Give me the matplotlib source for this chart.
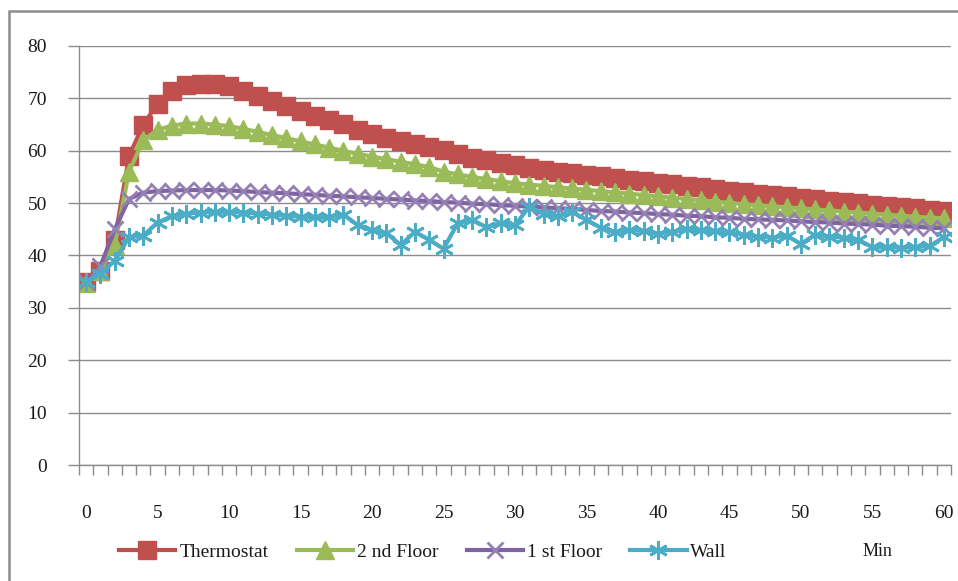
import matplotlib
matplotlib.use("Agg")
import matplotlib.pyplot as plt
from matplotlib.patches import Rectangle
import numpy as np

plt.rcParams['font.family'] = ['Liberation Serif', 'DejaVu Serif']

# Time in minutes (category axis)
minutes = list(range(0, 61))

thermostat = [35.0, 37.0, 43.0, 59.0, 65.0, 69.0, 71.5, 72.5, 72.8, 72.8,
              72.3, 71.5, 70.5, 69.5, 68.5, 67.5, 66.7, 65.9, 65.1, 63.9,
              63.2, 62.5, 61.9, 61.3, 60.7, 60.2, 59.3, 58.7, 58.2, 57.7,
              57.2, 56.8, 56.4, 56.0, 55.7, 55.4, 55.1, 54.8, 54.5, 54.2,
              53.9, 53.6, 53.3, 53.0, 52.7, 52.4, 52.1, 51.8, 51.6, 51.3,
              51.0, 50.8, 50.5, 50.2, 50.0, 49.7, 49.5, 49.2, 49.0, 48.7,
              48.5]

floor2 = [34.8, 37.0, 42.0, 56.0, 62.0, 64.0, 64.8, 65.2, 65.2, 65.0,
          64.7, 64.2, 63.6, 63.0, 62.4, 61.8, 61.2, 60.6, 60.0, 59.4,
          58.9, 58.4, 57.9, 57.4, 56.9, 56.0, 55.5, 55.0, 54.6, 54.2,
          53.8, 53.55, 53.3, 53.05, 52.8, 52.55, 52.3, 52.05, 51.8, 51.55,
          51.3, 51.05, 50.8, 50.55, 50.3, 50.05, 49.8, 49.6, 49.4, 49.2,
          49.0, 48.8, 48.6, 48.4, 48.2, 48.0, 47.8, 47.6, 47.4, 47.25,
          47.1]

floor1 = [35.0, 38.0, 45.0, 50.8, 52.0, 52.3, 52.4, 52.5, 52.5, 52.5,
          52.4, 52.3, 52.1, 52.0, 51.9, 51.7, 51.6, 51.4, 51.3, 51.1,
          51.0, 50.8, 50.7, 50.5, 50.4, 50.2, 50.1, 49.9, 49.8, 49.6,
          49.5, 49.3, 49.2, 49.0, 48.9, 48.7, 48.5, 48.4, 48.2, 48.1,
          47.9, 47.8, 47.6, 47.5, 47.3, 47.2, 47.0, 46.9, 46.8, 46.7,
          46.5, 46.4, 46.3, 46.1, 46.0, 45.9, 45.7, 45.6, 45.5, 45.3,
          45.2]

wall = [35.0, 36.5, 39.0, 43.5, 43.8, 46.3, 47.5, 48.0, 48.2, 48.3,
        48.3, 48.2, 48.0, 47.8, 47.6, 47.4, 47.3, 47.4, 47.8, 45.8,
        44.8, 44.3, 42.0, 44.5, 43.0, 41.3, 46.2, 46.8, 45.4, 46.2,
        45.8, 49.3, 48.0, 47.5, 48.3, 46.8, 45.3, 44.5, 44.8, 44.7,
        44.2, 44.5, 45.0, 44.8, 44.6, 44.4, 44.0, 43.6, 43.4, 43.8,
        42.2, 44.0, 43.6, 43.4, 43.0, 41.6, 41.6, 41.5, 41.6, 41.8,
        43.5]

series_names = ["Thermostat", "2 nd Floor", "1 st Floor", "Wall"]
x_tick_labels = [str(v) for v in range(0, 61, 5)]
y_ticks = [0, 10, 20, 30, 40, 50, 60, 70, 80]
x_unit = "Min"

FS = 14
GRID = "#8c8c8c"
TXT = "#1a1a1a"

fig = plt.figure(figsize=(9.58, 5.81), dpi=100)
ax = fig.add_axes([79 / 958, 1 - 465 / 581, 872 / 958, 419 / 581])

styles = [
    dict(color="#C0504D", marker="s", markersize=12.5, markerfacecolor="#C0504D",
         markeredgecolor="#C0504D"),
    dict(color="#9BBB59", marker="^", markersize=12.5, markerfacecolor="#9BBB59",
         markeredgecolor="#9BBB59"),
    dict(color="#8064A2", marker="x", markersize=11, markeredgewidth=2.0,
         markeredgecolor="#9580B4"),
    dict(color="#4BACC6", marker=(6, 2, 0), markersize=13.5, markeredgewidth=2.0,
         markeredgecolor="#4BACC6"),
]

for name, ys, st in zip(series_names, [thermostat, floor2, floor1, wall], styles):
    ax.plot(minutes, ys, linewidth=3.0, label=name, **st)

ax.set_xlim(-0.5, len(minutes) - 0.5)
ax.set_ylim(0, 80)

# y axis
ax.set_yticks(y_ticks)
ax.set_yticklabels([str(v) for v in y_ticks], fontsize=FS, color=TXT)
ax.tick_params(axis="y", length=8, width=1, color=GRID, pad=15)
ax.yaxis.grid(True, color=GRID, linewidth=1)
ax.set_axisbelow(True)

# x axis: tick marks between categories, labels every 5 minutes
ax.set_xticks(np.arange(-0.5, len(minutes), 1.0))
ax.set_xticklabels([])
ax.tick_params(axis="x", which="major", length=7, width=1, color=GRID)
ax.set_xticks(minutes[::5], minor=True)
ax.set_xticklabels(x_tick_labels, minor=True, fontsize=FS, color=TXT)
ax.tick_params(axis="x", which="minor", length=0, pad=29)

for side in ["top", "right"]:
    ax.spines[side].set_visible(False)
for side in ["left", "bottom"]:
    ax.spines[side].set_color(GRID)
    ax.spines[side].set_linewidth(1)

leg = fig.legend(loc="center left", bbox_to_anchor=(119 / 958, 1 - 552 / 581),
                 ncol=4, frameon=False, fontsize=FS, borderpad=0,
                 borderaxespad=0, handlelength=2.9, handletextpad=0.2,
                 columnspacing=1.45, numpoints=1)
for t in leg.get_texts():
    t.set_color(TXT)

fig.text(877 / 958, 1 - 552 / 581, x_unit, fontsize=13, ha="center",
         va="center", color=TXT)

# chart area border
fig.patches.append(Rectangle((9 / 958, -0.05), 1.1, 1 - 11 / 581 + 0.05,
                             transform=fig.transFigure, fill=False,
                             edgecolor="#8c8c8c", linewidth=1.8))

fig.savefig("out.png", dpi=100, facecolor="white")
